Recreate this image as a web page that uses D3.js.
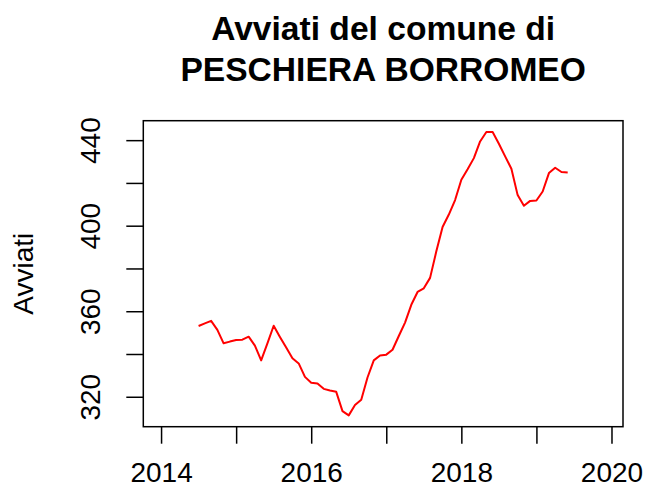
<!doctype html>
<html lang="it">
<head>
<meta charset="utf-8">
<title>Avviati del comune di PESCHIERA BORROMEO</title>
<script src="https://cdn.jsdelivr.net/npm/d3@7"></script>
<style>
	body { margin: 0; background: #fff; }
	text { font-family: "Liberation Sans", Arial, sans-serif; fill: #000; }
	.tick line { stroke: #000; stroke-width: 1.5; }
	.domain { display: none; }
</style>
</head>
<body>
<div id="viz"></div>
<script>

// monthly series, first value = July 2014
var startYear = 2014, startMonth = 7;
// full series span (NA months included), used for the x range like R does
var seriesStart = 2014, seriesEnd = 2019 + 11 / 12;

var avviati = [
	353.1, 354.3, 355.5, 351.3, 345.0, 345.8, 346.5, 346.7, 348.1, 343.9, 337.0, 345.0,
	353.2, 348.0, 343.0, 338.0, 335.6, 329.3, 326.6, 326.2, 323.7, 322.9, 322.3, 313.3,
	311.3, 316.1, 318.6, 329.0, 337.0, 339.3, 339.7, 342.0, 348.4, 354.7, 363.0, 369.0,
	370.7, 375.6, 388.0, 399.4, 405.2, 412.0, 421.5, 426.4, 431.6, 439.4, 443.8, 443.8,
	438.3, 432.4, 426.6, 414.3, 409.3, 411.6, 411.8, 416.0, 424.6, 427.1, 425.1, 424.9
];

var xTicks = [2014, 2015, 2016, 2017, 2018, 2019, 2020];
var xLabels = [2014, 2016, 2018, 2020];
var yTicks = [320, 340, 360, 380, 400, 420, 440];
var yLabels = [320, 360, 400, 440];

var titleLines = ["Avviati del comune di", "PESCHIERA BORROMEO"];
var yTitle = "Avviati";

(function(d3) {

	var w = 645, h = 491;
	var margin = {top: 120.7, right: 22, bottom: 64.3, left: 143.3};
	var width = w - margin.left - margin.right,
		height = h - margin.top - margin.bottom;

	var data = avviati.map((v, i) => ({t: startYear + (startMonth - 1 + i) / 12, v: v}));

	// R style 4% padding
	function pad(ext) {
		var d = (ext[1] - ext[0]) * 0.04;
		return [ext[0] - d, ext[1] + d];
	}

	var xScale = d3.scaleLinear()
		.domain(pad([seriesStart, seriesEnd]))
		.range([0, width]);

	var yScale = d3.scaleLinear()
		.domain(pad(d3.extent(avviati)))
		.range([height, 0]);

	var svg = d3.select("#viz")
		.append("svg")
		.attr("width", w)
		.attr("height", h);

	var g = svg.append("g")
		.attr("transform", "translate(" + margin.left + "," + margin.top + ")");

	var xAxis = d3.axisBottom(xScale)
		.tickValues(xTicks)
		.tickSize(17)
		.tickPadding(38)
		.tickFormat(d => xLabels.indexOf(d) >= 0 ? d : "");

	g.append("g")
		.attr("transform", "translate(0," + height + ")")
		.call(xAxis)
		.selectAll("text")
		.style("font-size", "28px")
		.attr("dy", "0");

	var yAxis = d3.axisLeft(yScale)
		.tickValues(yTicks)
		.tickSize(17)
		.tickFormat(d => yLabels.indexOf(d) >= 0 ? d : "");

	var yG = g.append("g").call(yAxis);
	yG.selectAll("text")
		.style("font-size", "28px")
		.attr("x", null)
		.attr("dy", null)
		.attr("text-anchor", "middle")
		.attr("transform", "translate(-43,0) rotate(-90)");

	// plot box
	g.append("rect")
		.attr("width", width)
		.attr("height", height)
		.attr("fill", "none")
		.attr("stroke", "#000")
		.attr("stroke-width", 1.5);

	var line = d3.line()
		.x(d => xScale(d.t))
		.y(d => yScale(d.v));

	g.append("path")
		.datum(data)
		.attr("fill", "none")
		.attr("stroke", "#ff0000")
		.attr("stroke-width", 2)
		.attr("stroke-linejoin", "round")
		.attr("d", line);

	// title, centred on the plot region
	svg.append("text")
		.attr("x", margin.left + width / 2)
		.attr("text-anchor", "middle")
		.style("font-size", "33.6px")
		.style("font-weight", "bold")
		.selectAll("tspan")
		.data(titleLines)
		.enter()
		.append("tspan")
		.attr("x", margin.left + width / 2)
		.attr("y", (d, i) => 40 + i * 41)
		.text(d => d);

	svg.append("text")
		.attr("transform", "translate(33," + (margin.top + height / 2) + ") rotate(-90)")
		.attr("text-anchor", "middle")
		.style("font-size", "28px")
		.text(yTitle);

})(d3);

</script>
</body>
</html>
